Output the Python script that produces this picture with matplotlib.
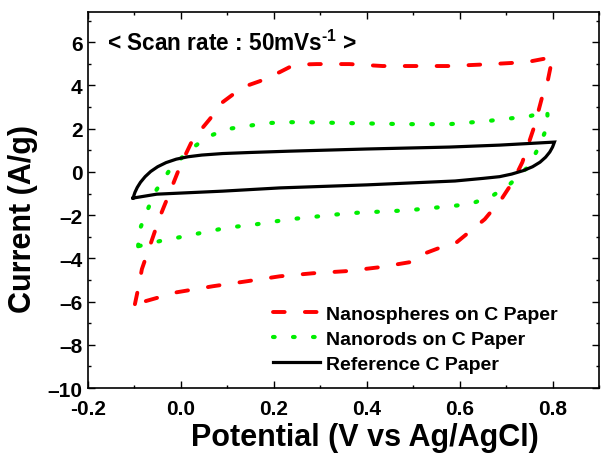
import matplotlib
matplotlib.use("Agg")
import matplotlib.pyplot as plt
from matplotlib.ticker import MultipleLocator, FuncFormatter

plt.rcParams['font.family'] = ['Liberation Sans', 'DejaVu Sans']
plt.rcParams['font.weight'] = 'bold'
plt.rcParams['mathtext.fontset'] = 'custom'
plt.rcParams['mathtext.rm'] = 'Liberation Sans:bold'
plt.rcParams['mathtext.bf'] = 'Liberation Sans:bold'
plt.rcParams['mathtext.default'] = 'bf'

# ---- data ----
sphere_x = [-0.099, -0.090, -0.084, -0.067, -0.045, -0.025, -0.006, 0.010, 0.026, 0.045, 0.062, 0.090,
            0.133, 0.170, 0.213, 0.234, 0.260, 0.292, 0.363, 0.434, 0.508, 0.578, 0.660, 0.744, 0.800,
            0.789, 0.778, 0.761, 0.735, 0.714, 0.690, 0.654, 0.628, 0.594, 0.572, 0.514, 0.492, 0.428,
            0.357, 0.284, 0.213, 0.142, 0.069, -0.009, -0.099]
sphere_y = [-6.12, -5.20, -4.50, -3.44, -2.06, -1.00, 0.03, 0.80, 1.52, 2.00, 2.44, 3.23,
            3.92, 4.20, 4.62, 4.85, 4.97, 4.99, 4.99, 4.90, 4.90, 4.90, 4.98, 5.08, 5.31,
            4.15, 3.50, 2.12, 0.45, -0.47, -1.26, -2.19, -2.65, -3.25, -3.39, -3.86, -4.18, -4.41,
            -4.59, -4.69, -4.83, -5.06, -5.29, -5.57, -6.12]

rod_x = [-0.092, -0.090, -0.073, -0.056, -0.026, 0.013, 0.056, 0.099, 0.142, 0.185, 0.234, 0.271,
         0.357, 0.486, 0.578, 0.658, 0.751, 0.789,
         0.789, 0.772, 0.751, 0.708, 0.669, 0.622, 0.578, 0.535, 0.492, 0.449, 0.406, 0.363, 0.320,
         0.277, 0.234, 0.191, 0.148, 0.105, 0.062, 0.019, -0.002, -0.045, -0.092]
rod_y = [-3.44, -2.74, -1.82, -0.94, 0.03, 0.91, 1.61, 1.98, 2.12, 2.26, 2.30, 2.30,
         2.26, 2.21, 2.21, 2.35, 2.58, 2.81,
         2.12, 1.24, 0.31, -0.57, -1.13, -1.49, -1.59, -1.68, -1.77, -1.82, -1.86, -1.91, -2.00,
         -2.10, -2.19, -2.33, -2.47, -2.56, -2.74, -2.93, -3.02, -3.20, -3.44]

ref_x = [-0.103, -0.099, -0.094, -0.087, -0.077, -0.065, -0.050, -0.032, -0.010, 0.015, 0.045,
         0.090, 0.150, 0.234, 0.400, 0.578, 0.686, 0.804,
         0.800, 0.794, 0.785, 0.773, 0.757, 0.737, 0.712, 0.686, 0.650, 0.590, 0.400, 0.213,
         0.090, -0.052, -0.103]
ref_y = [-1.21, -0.95, -0.72, -0.48, -0.22, 0.02, 0.24, 0.43, 0.59, 0.70, 0.78,
         0.85, 0.90, 0.96, 1.06, 1.15, 1.24, 1.38,
         1.15, 0.92, 0.68, 0.45, 0.24, 0.06, -0.10, -0.22, -0.30, -0.42, -0.60, -0.74,
         -0.89, -1.03, -1.21]

labels = ["Nanospheres on C Paper", "Nanorods on C Paper", "Reference C Paper"]

fig = plt.figure(figsize=(6.01, 4.56), dpi=100)
ax = fig.add_axes([0.1464, 0.1469, 0.8503, 0.8246])

ax.plot(sphere_x, sphere_y, color='#ff0000', lw=2.8, dashes=(3, 5.2),
        dash_capstyle='round', solid_joinstyle='round', label=labels[0])
ax.plot(rod_x, rod_y, color='#00ee00', lw=3.0, dashes=(0.4, 4.4),
        dash_capstyle='round', label=labels[1])
ax.plot(ref_x, ref_y, color='black', lw=2.3, solid_joinstyle='miter', label=labels[2])

ax.set_xlim(-0.2, 0.9)
ax.set_ylim(-10, 7.4)
ax.xaxis.set_major_locator(MultipleLocator(0.2))
ax.xaxis.set_minor_locator(MultipleLocator(0.1))
ax.yaxis.set_major_locator(MultipleLocator(2))
ax.yaxis.set_minor_locator(MultipleLocator(1))
ax.xaxis.set_major_formatter(FuncFormatter(lambda v, p: f"{v:.1f}"))
ax.yaxis.set_major_formatter(FuncFormatter(lambda v, p: f"{v:.0f}".replace('-', '\u2013')))

ax.tick_params(which='both', direction='in', top=True, right=True, width=1.0)
ax.tick_params(which='major', length=5, labelsize=15)
ax.tick_params(axis='x', which='major', pad=8)
ax.tick_params(axis='y', which='major', pad=4)
ax.tick_params(which='minor', length=2.5)
for lab in ax.get_xticklabels() + ax.get_yticklabels():
    lab.set_fontweight('bold')
for s in ax.spines.values():
    s.set_linewidth(1.2)

ax.set_xlabel("Potential (V vs Ag/AgCl)", fontsize=22, fontweight='bold', va='center')
ax.set_ylabel("Current (A/g)", fontsize=22, fontweight='bold', va='center')
ax.xaxis.set_label_coords(0.542, -0.130)
ax.yaxis.set_label_coords(-0.127, 0.452)

ax.text(0.037, 0.92, "< Scan rate : 50mVs$^{\\text{-1}}$ >", transform=ax.transAxes,
        fontsize=16.3, fontweight='bold', va='center', ha='left')

leg = ax.legend(loc='upper left', bbox_to_anchor=(0.362, 0.221), frameon=False,
                fontsize=14, handlelength=2.4, handletextpad=0.35, labelspacing=0.38,
                borderpad=0, borderaxespad=0)
for t in leg.get_texts():
    t.set_fontweight('bold')

fig.savefig("out.png", dpi=100)
